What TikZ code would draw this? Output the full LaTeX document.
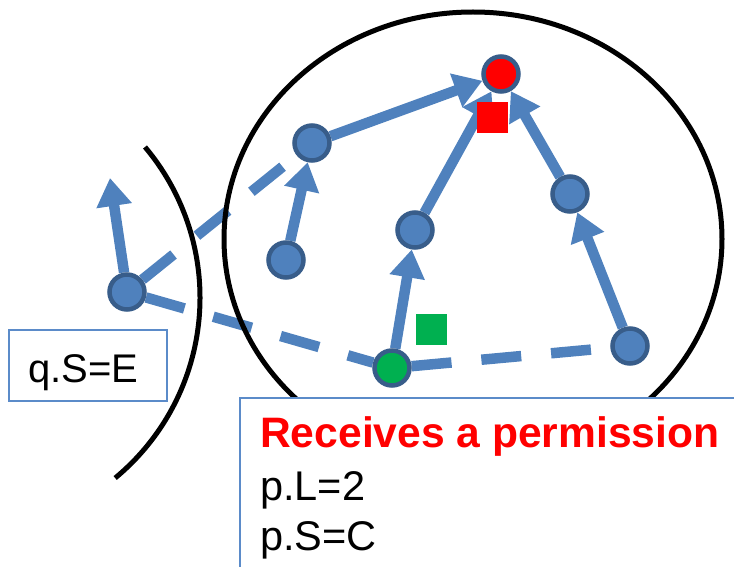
\documentclass[tikz,border=0pt]{standalone}
\usepackage{fontspec}
\setmainfont{Liberation Sans}
\usetikzlibrary{arrows.meta}
\definecolor{nodeblue}{HTML}{4F81BD}
\definecolor{nodeedge}{HTML}{385D8A}
\definecolor{boxedge}{HTML}{5B8BC9}
\definecolor{sqgreen}{HTML}{00B050}
\pgfdeclarelayer{bg}
\pgfsetlayers{bg,main}
\begin{document}
\begin{tikzpicture}[x=1pt,y=-1pt,
  pnode/.style={circle, fill=nodeblue, draw=nodeedge, line width=4.5pt, minimum size=35pt, inner sep=0pt},
  flow/.style={draw=nodeblue, line width=10.5pt, -{Triangle[length=28pt,width=34pt]}},
  dashline/.style={draw=nodeblue, line width=10.5pt, dash pattern=on 40pt off 30pt},
  lbl/.style={anchor=base west, inner sep=0pt, font=\fontsize{41.5}{49}\selectfont},
  infobox/.style={draw=boxedge, line width=2pt, fill=white, inner sep=0pt},
  sq/.style={minimum size=31pt, inner sep=0pt}]
\clip (0,0) rectangle (734,567);
% region outlines
\draw[line width=5pt] (473,239) ellipse [x radius=249pt, y radius=227pt];
\draw[line width=5pt] (145,147) arc[start angle=40.1, end angle=-50.4, radius=234pt];
% processes
\node[pnode] (Q) at (127,292) {};
\node[pnode] (A) at (312,143) {};
\node[pnode] (B) at (286,260) {};
\node[pnode] (C) at (415,230) {};
\node[pnode, fill=sqgreen] (G) at (392,368) {};
\node[pnode, fill=red] (R) at (501,74) {};
\node[pnode] (D) at (570,194) {};
\node[pnode] (E) at (630,346) {};
\coordinate (Qup) at (110,178);
\begin{pgfonlayer}{bg}
  \draw[dashline] (Q) -- (A);
  \draw[dashline] (Q) -- (G);
  \draw[dashline] (G) -- (E);
  \draw[flow] (Q) -- (Qup);
  \draw[flow] (B) -- (A);
  \draw[flow] (A) -- (R);
  \draw[flow] (G) -- (C);
  \draw[flow] (C) -- (R);
  \draw[flow] (E) -- (D);
  \draw[flow] (D) -- (R);
\end{pgfonlayer}
% squares
\node[sq, fill=red] (rsq) at (492.5,117.5) {};
\node[sq, fill=sqgreen] (gsq) at (431.5,329.5) {};
% boxes
\node[infobox, anchor=north west, minimum width=158pt, minimum height=71pt] (qbox) at (8,329) {};
\node[lbl, font=\fontsize{40}{48}\selectfont] (qtxt) at (28,382) {q.S=E};
\node[infobox, anchor=north west, minimum width=520pt, minimum height=200pt] (pbox) at (239,397) {};
\node[lbl, text=red, font=\fontsize{42.6}{50}\selectfont\bfseries] (ptitle) at (260,447) {Receives a permission};
\node[lbl] (pl) at (260,500) {p.L=2};
\node[lbl] (ps) at (260,550) {p.S=C};
\end{tikzpicture}
\end{document}
